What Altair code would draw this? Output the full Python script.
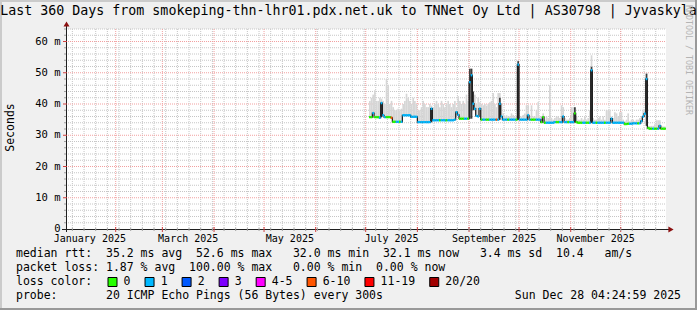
import altair as alt
import pandas as pd

FONT = "DejaVu Sans Mono"
NB = "\u00a0"

# ---------------- data (days since 2025-01-01, values in ms) ----------------
first_day = 183
median_ms = [
    35.8, 35.8, 37.1, 35.8, 35.8, 35.8, 35.6, 40.3, 36.4, 35.8,
    35.8, 35.8, 35.8, 35.6, 34.3, 34.3, 34.3, 34.3, 34.3, 34.3,
    36.4, 36.4, 36.4, 36.4, 36.4, 35.9, 35.9, 35.9, 35.9, 34.2,
    34.2, 34.2, 34.2, 34.2, 34.2, 34.2, 34.2, 38.5, 34.8, 34.8,
    34.8, 34.8, 34.8, 34.8, 34.8, 34.8, 34.8, 34.8, 34.8, 34.8,
    34.8, 35.0, 37.4, 36.5, 35.3, 35.3, 35.3, 35.3, 35.3, 35.3,
    47.0, 49.2, 40.1, 38.5, 36.2, 36.0, 38.5, 35.0, 35.0, 35.0,
    35.0, 35.0, 35.0, 35.0, 35.0, 35.0, 35.0, 35.0, 40.1, 36.0,
    35.0, 35.0, 35.0, 35.0, 35.0, 35.0, 35.0, 35.0, 35.0, 52.6,
    35.0, 35.0, 35.0, 35.0, 35.0, 36.4, 35.0, 35.0, 35.0, 35.0,
    35.0, 35.0, 35.0, 34.2, 35.8, 34.0, 34.0, 34.0, 34.0, 34.0,
    34.0, 34.2, 34.2, 34.2, 34.2, 34.2, 36.0, 34.2, 34.2, 34.2,
    34.2, 34.2, 34.2, 37.0, 34.2, 34.0, 34.0, 34.0, 34.0, 34.0,
    34.0, 34.0, 34.0, 50.8, 34.0, 34.0, 34.0, 34.0, 34.0, 34.0,
    34.0, 34.0, 34.0, 34.0, 34.0, 35.3, 34.0, 34.0, 34.0, 34.0,
    34.0, 34.0, 34.0, 33.6, 33.6, 33.7, 33.7, 33.7, 33.8, 33.8,
    33.8, 33.8, 33.8, 34.5, 36.0, 36.9, 48.0, 32.3, 32.1, 32.1,
    32.1, 32.1, 32.1, 32.1, 33.0, 32.1, 32.1, 32.1,
]
loss_idx = [
    0, 0, 1, 0, 0, 0, 1, 1, 1, 1,
    0, 0, 0, 5, 0, 0, 1, 1, 0, 1,
    1, 1, 1, 1, 1, 1, 1, 1, 1, 1,
    1, 1, 1, 1, 1, 1, 1, 1, 1, 1,
    1, 1, 0, 1, 1, 1, 0, 1, 1, 1,
    1, 1, 1, 1, 0, 0, 0, 1, 1, 0,
    1, 1, 1, 1, 1, 1, 1, 0, 1, 1,
    0, 0, 1, 1, 1, 1, 5, 1, 1, 1,
    1, 1, 1, 0, 1, 1, 1, 1, 0, 1,
    1, 1, 1, 1, 1, 1, 1, 0, 0, 0,
    1, 1, 1, 0, 0, 0, 1, 1, 1, 1,
    1, 1, 0, 0, 1, 1, 1, 1, 1, 0,
    1, 1, 1, 0, 0, 0, 0, 0, 1, 1,
    0, 0, 1, 1, 1, 1, 0, 1, 1, 1,
    1, 0, 1, 1, 1, 1, 1, 1, 1, 1,
    1, 1, 1, 0, 0, 0, 1, 1, 1, 1,
    1, 0, 1, 1, 1, 1, 1, 0, 0, 0,
    1, 0, 0, 1, 1, 0, 0, 0,
]
smoke_top_ms = [
    41.0, 42.0, 43.0, 44.4, 41.0, 41.0, 42.0, 41.7, 41.0, 40.0,
    48.0, 46.0, 40.0, 41.0, 39.0, 38.0, 38.0, 38.5, 38.0, 38.5,
    40.0, 41.0, 43.3, 42.0, 41.0, 40.0, 42.0, 41.0, 40.0, 38.0,
    38.0, 39.0, 41.0, 40.0, 39.0, 39.0, 40.0, 39.5, 39.0, 40.0,
    41.0, 40.0, 39.0, 41.0, 40.0, 39.0, 40.0, 41.0, 40.0, 39.0,
    40.0, 41.0, 39.0, 42.5, 41.0, 40.0, 41.0, 40.0, 43.0, 41.0,
    51.3, 51.3, 44.0, 43.0, 40.0, 42.0, 40.6, 40.0, 39.6, 40.0,
    39.5, 40.0, 40.6, 41.0, 43.5, 40.0, 39.0, 43.5, 43.5, 40.0,
    37.0, 36.0, 36.4, 36.0, 36.0, 37.0, 36.5, 36.0, 36.0, 54.0,
    36.0, 36.0, 36.5, 37.0, 39.6, 39.6, 36.0, 39.6, 36.0, 36.0,
    38.0, 40.6, 36.0, 36.0, 37.0, 35.0, 36.0, 35.5, 46.0, 35.5,
    35.0, 35.5, 36.0, 36.0, 35.5, 39.6, 39.0, 35.5, 35.0, 35.0,
    35.5, 39.0, 39.0, 39.0, 36.0, 35.0, 35.0, 35.5, 35.0, 36.0,
    35.0, 35.5, 38.0, 55.6, 35.5, 35.0, 35.0, 35.5, 36.0, 35.0,
    36.0, 35.0, 38.0, 38.0, 38.0, 36.0, 35.5, 37.4, 37.0, 36.0,
    37.4, 37.4, 35.0, 34.5, 35.0, 37.0, 34.5, 35.0, 35.0, 34.5,
    35.0, 35.0, 35.5, 36.0, 38.0, 38.0, 50.0, 33.0, 33.0, 33.0,
    33.0, 33.5, 34.8, 34.8, 34.8, 33.0, 32.8, 32.8,
]
spike_day = [190, 220, 243, 244, 245, 261, 272, 306, 316, 349]
spike_lo = [35.8, 34.2, 35.3, 35.3, 38.0, 35.0, 35.0, 34.2, 34.0, 33.0]
spike_hi = [40.3, 38.5, 51.3, 51.3, 44.0, 42.0, 53.7, 39.0, 51.9, 49.7]

loss_labels = ["0", "1", "2", "3", "4-5", "6-10", "11-19", "20/20"]
loss_colors = ["#26ff00", "#00b8ff", "#0059ff", "#7e00ff", "#ff00ff",
               "#ff5500", "#ff0000", "#a10000"]

month_start_days = [31, 59, 90, 120, 151, 181, 212, 243, 273, 304, 334]
month_label_days = [15.5, 74.5, 135.5, 196.5, 258.0, 319.0]
month_labels = ["January 2025", "March 2025", "May 2025", "July 2025",
                "September 2025", "November 2025"]
y_major = [0, 10, 20, 30, 40, 50, 60]
y_labels = ["0  ", "10 m", "20 m", "30 m", "40 m", "50 m", "60 m"]

title_text = ("Last 360 Days from smokeping-thn-lhr01.pdx.net.uk to "
              "TNNet Oy Ltd | AS30798 | Jyvaskyla")
legend_rows = [
    "median rtt:  35.2 ms avg  52.6 ms max   32.0 ms min  32.1 ms now   3.4 ms sd  10.4   am/s",
    "packet loss: 1.87 % avg  100.00 % max   0.00 % min  0.00 % now",
    "loss color:",
    "probe:       20 ICMP Echo Pings (56 Bytes) every 300s",
]
date_text = "Sun Dec 28 04:24:59 2025"

# ---------------- layout ----------------
W, H = 600, 200
PAD_L, PAD_T = 66, 29
X_DOMAIN = [1.18, 361.18]
Y_DOMAIN = [0, 64]

xs = alt.Scale(domain=X_DOMAIN, nice=False, zero=False)
ys = alt.Scale(domain=Y_DOMAIN, nice=False, zero=True)

days = [first_day + i for i in range(len(median_ms))]
df = pd.DataFrame({
    "d": days,
    "d2": [d + 1 for d in days],
    "med": median_ms,
    "top": smoke_top_ms,
    "loss": [loss_labels[i] for i in loss_idx],
})
line_df = pd.DataFrame({"d": days + [days[-1] + 1],
                        "med": median_ms + [median_ms[-1]]})
spk = pd.DataFrame({"d": spike_day, "d2": [d + 1 for d in spike_day],
                    "lo": spike_lo, "hi": spike_hi})

week_days = [d for d in range(5, 362, 7) if X_DOMAIN[0] <= d <= X_DOMAIN[1]]
minor_y = [v for v in range(2, 65, 2) if v % 10]

GRID = "#c6c6c6"
MGRID = "#f2a0a0"


def X(f="d"):
    return alt.X(f"{f}:Q", scale=xs, axis=None)


def Y(f):
    return alt.Y(f"{f}:Q", scale=ys, axis=None)


def vrules(vals, color, y0, y1, dash=None):
    kw = dict(color=color, strokeWidth=1)
    if dash:
        kw["strokeDash"] = dash
    return alt.Chart(pd.DataFrame({"d": vals})).mark_rule(**kw).encode(
        x=X(), y=alt.value(y0), y2=alt.value(y1))


def hrules(vals, color, x0, x1, dash=None):
    kw = dict(color=color, strokeWidth=1)
    if dash:
        kw["strokeDash"] = dash
    return alt.Chart(pd.DataFrame({"v": vals})).mark_rule(**kw).encode(
        y=Y("v"), x=alt.value(x0), x2=alt.value(x1))


def text(s, x, y, size=11.5, align="left", color="#000000", angle=0):
    return alt.Chart(pd.DataFrame({"t": [s.replace(" ", NB)]})).mark_text(
        align=align, baseline="middle", font=FONT, fontSize=size,
        color=color, angle=angle).encode(
        x=alt.value(x), y=alt.value(y), text="t:N")


def prect(x0, y0, x1, y1, color):
    return alt.Chart(pd.DataFrame({"a": [0]})).mark_rect(color=color).encode(
        x=alt.value(x0), x2=alt.value(x1), y=alt.value(y0), y2=alt.value(y1))


layers = []

# frame (3D shading)
layers.append(prect(-PAD_L, -PAD_T, 697 - PAD_L, 2 - PAD_T, "#cbcbcb"))
layers.append(prect(-PAD_L, -PAD_T, 2 - PAD_L, 310 - PAD_T, "#cbcbcb"))
layers.append(prect(-PAD_L, 308 - PAD_T, 697 - PAD_L, 310 - PAD_T, "#999999"))
layers.append(prect(695 - PAD_L, -PAD_T, 697 - PAD_L, 310 - PAD_T, "#999999"))

# grid
layers.append(vrules(week_days, GRID, 0, H, [1, 1]))
layers.append(hrules(minor_y, GRID, 0, W, [1, 1]))
layers.append(vrules(month_start_days, MGRID, 0, H, [1, 1]))
layers.append(hrules(y_major[1:], MGRID, 0, W, [1, 1]))

# smoke
layers.append(alt.Chart(df).mark_rect(color="#d6d6d6").encode(
    x=X(), x2="d2:Q", y=Y("med"), y2="top:Q"))
layers.append(alt.Chart(spk).mark_rect(color="#3c3c3c").encode(
    x=X(), x2="d2:Q", y=Y("lo"), y2="hi:Q"))

# median line
layers.append(alt.Chart(line_df).mark_line(
    interpolate="step-after", color="#1a1a1a", strokeWidth=1.2).encode(
    x=X(), y=Y("med")))
layers.append(alt.Chart(df).mark_rule(strokeWidth=2.4).encode(
    x=X(), x2="d2:Q", y=Y("med"),
    color=alt.Color("loss:N", scale=alt.Scale(domain=loss_labels,
                                              range=loss_colors), legend=None)))

# axes lines, ticks, arrows
layers.append(prect(-4, H, 605, H + 1, "#202020"))
layers.append(prect(0, -5, 1, H + 3, "#202020"))
layers.append(vrules(month_start_days, "#d04040", H - 2, H + 3))
layers.append(vrules(week_days, "#a0a0a0", H - 1, H + 2))
layers.append(hrules(minor_y, "#a0a0a0", -2, 0))
layers.append(hrules(y_major[1:], "#d04040", -3, 1))
layers.append(alt.Chart(pd.DataFrame({"a": [0]})).mark_point(
    shape="triangle-right", filled=True, size=36, color="#8b1010", opacity=1).encode(
    x=alt.value(605), y=alt.value(H + 0.5)))
layers.append(alt.Chart(pd.DataFrame({"a": [0]})).mark_point(
    shape="triangle-up", filled=True, size=36, color="#8b1010", opacity=1).encode(
    x=alt.value(0.5), y=alt.value(-5)))

# y labels
layers.append(alt.Chart(pd.DataFrame({
    "v": y_major, "t": [s.replace(" ", NB) for s in y_labels]})).mark_text(
    font=FONT, fontSize=10.5, align="right", baseline="middle", color="#000000").encode(
    y=Y("v"), x=alt.value(-5.5), text="t:N"))

# month labels
layers.append(alt.Chart(pd.DataFrame({"d": month_label_days, "t": month_labels})).mark_text(
    font=FONT, fontSize=10, align="center", baseline="middle", color="#000000").encode(
    x=X(), y=alt.value(238.5 - PAD_T), text="t:N"))

# texts
layers.append(text(title_text, 348.5 - PAD_L, 11 - PAD_T, size=13.3, align="center"))
layers.append(text("Seconds", 11 - PAD_L, 127.5 - PAD_T, size=11.5, align="center", angle=270))
layers.append(text("RRDTOOL / TOBI OETIKER", 687.5 - PAD_L, 60 - PAD_T, size=8.3,
                   align="center", color="#b4b4b4", angle=90))
row_y = [254, 268, 282, 296]
for s, yy in zip(legend_rows, row_y):
    layers.append(text(s, 16 - PAD_L, yy - PAD_T))
layers.append(text(date_text, 681 - PAD_L, 296 - PAD_T, align="right"))

# loss colour legend swatches
CW = 6.94
sx, lx = [], []
cur = 108.0
for lab in loss_labels:
    sx.append(cur)
    lx.append(cur + 15.6)
    cur += 30.1 + len(lab) * CW
sw = pd.DataFrame({"x": [v - PAD_L for v in sx], "x2": [v + 9 - PAD_L for v in sx],
                   "lab": loss_labels})
layers.append(alt.Chart(sw).mark_rect(stroke="#000000", strokeWidth=1).encode(
    x=alt.X("x:Q", scale=None), x2="x2:Q",
    y=alt.value(282 - 4.5 - PAD_T), y2=alt.value(282 + 4.5 - PAD_T),
    color=alt.Color("lab:N", scale=alt.Scale(domain=loss_labels, range=loss_colors),
                    legend=None)))
lt = pd.DataFrame({"x": [v - PAD_L for v in lx], "t": loss_labels})
layers.append(alt.Chart(lt).mark_text(font=FONT, fontSize=11.5, align="left",
                                      baseline="middle", color="#000000").encode(
    x=alt.X("x:Q", scale=None), y=alt.value(282 - PAD_T), text="t:N"))

chart = alt.layer(*layers).resolve_scale(color="independent").properties(
    width=W, height=H,
    padding={"left": PAD_L, "top": PAD_T, "right": 697 - PAD_L - W,
             "bottom": 310 - PAD_T - H},
    autosize=alt.AutoSizeParams(type="none"),
).configure(background="#f0f0f0").configure_view(stroke=None, fill="#ffffff")

chart.save("out.html", embed_options={"renderer": "svg", "actions": False})
